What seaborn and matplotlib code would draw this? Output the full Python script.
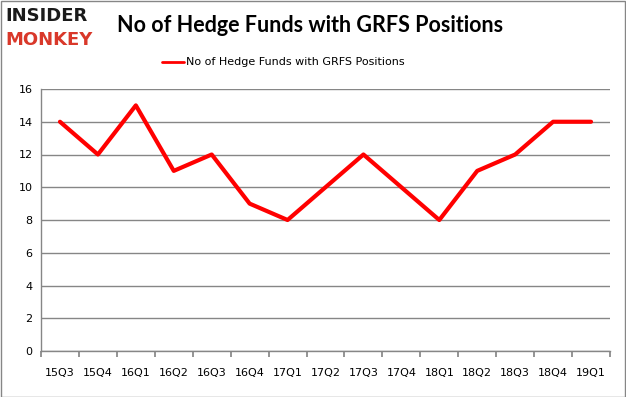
import matplotlib
matplotlib.use("Agg")
import matplotlib.pyplot as plt
import seaborn as sns
import pandas as pd
import numpy as np
from matplotlib.patches import Rectangle

quarters = ["15Q3", "15Q4", "16Q1", "16Q2", "16Q3", "16Q4", "17Q1", "17Q2",
            "17Q3", "17Q4", "18Q1", "18Q2", "18Q3", "18Q4", "19Q1"]
funds = [14, 12, 15, 11, 12, 9, 8, 10, 12, 10, 8, 11, 12, 14, 14]
series_name = "No of Hedge Funds with GRFS Positions"
yticks = [0, 2, 4, 6, 8, 10, 12, 14, 16]

sns.set_theme(style="white")
plt.rcParams['font.family'] = ['DejaVu Sans']

df = pd.DataFrame({"pos": np.arange(len(quarters)), "funds": funds, "series": series_name})

fig = plt.figure(figsize=(6.26, 3.97), dpi=100)
ax = fig.add_axes([41/626, 46/397, 569/626, 262/397])

sns.lineplot(data=df, x="pos", y="funds", hue="series", palette=["#ff0000"],
             linewidth=3, ax=ax, legend=False)

ax.set_xlim(-0.5, len(quarters) - 0.5)
ax.set_ylim(0, 16)
ax.set_yticks(yticks)
ax.set_yticklabels([str(v) for v in yticks], fontsize=8, color="black")
ax.yaxis.grid(True, color="#868686", linewidth=1)
ax.set_axisbelow(True)

ax.set_xticks(np.arange(-0.5, len(quarters)), minor=False)
ax.set_xticklabels([])
ax.set_xticks(np.arange(len(quarters)), minor=True)
ax.set_xticklabels(quarters, minor=True, fontsize=8, color="black")
ax.tick_params(axis="x", which="major", direction="out", length=4, color="#868686", bottom=True)
ax.tick_params(axis="x", which="minor", length=0, pad=12)
ax.tick_params(axis="y", length=0, pad=6)
ax.set_xlabel("")
ax.set_ylabel("")
for s in ["top", "right"]:
    ax.spines[s].set_visible(False)
for s in ["left", "bottom"]:
    ax.spines[s].set_color("#868686")
    ax.spines[s].set_linewidth(1)

# legend
fig.lines.append(plt.Line2D([162/626, 184/626], [335/397, 335/397], color="#ff0000", linewidth=2,
                            transform=fig.transFigure))
fig.text(186/626, 335/397, series_name, fontsize=8, va="center", ha="left", color="black")

# title
fig.text(117/626, 372/397, "No of Hedge Funds with GRFS Positions", fontsize=15.5,
         fontweight="bold", family=["Lato", "DejaVu Sans"],
         va="center", ha="left", color="black")
# logo
fig.text(5/626, 381/397, "INSIDER", fontsize=13, fontweight="heavy", va="center", ha="left",
         color="#1a1a1a", family=["DejaVu Sans"])
fig.text(5/626, 357/397, "MONKEY", fontsize=13, fontweight="heavy", va="center", ha="left",
         color="#d9382a", family=["DejaVu Sans"])

# border
fig.patches.append(Rectangle((0.5/626, 0.5/397), 1 - 1.5/626, 1 - 1.5/397, fill=False,
                             edgecolor="#868686", linewidth=1, transform=fig.transFigure))

fig.savefig("out.png", dpi=100)
